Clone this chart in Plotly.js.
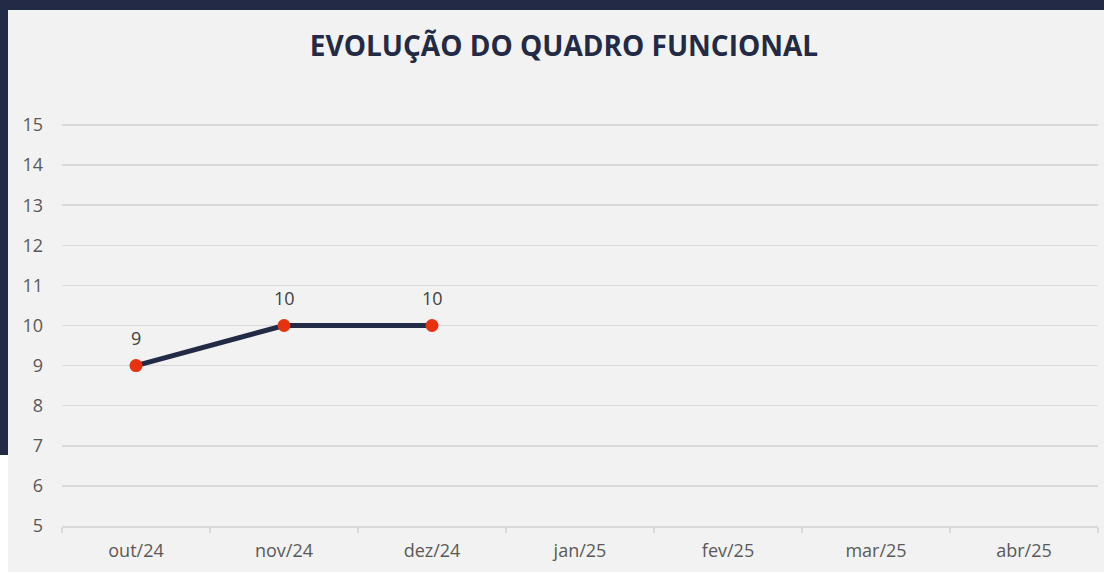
<!DOCTYPE html>
<html>
<head>
<meta charset="utf-8">
<script src="https://cdn.plot.ly/plotly-3.0.1.min.js"></script>
<style>
html,body{margin:0;padding:0;background:#f2f2f2;}
#chart{width:1104px;height:572px;}
</style>
</head>
<body>
<div id="chart"></div>
<script>
const months = ['out/24','nov/24','dez/24','jan/25','fev/25','mar/25','abr/25'];
const headcount = [9, 10, 10, null, null, null, null];
const yTicks = [5,6,7,8,9,10,11,12,13,14,15];
const chartTitle = 'EVOLUÇÃO DO QUADRO FUNCIONAL';

const navy = '#222a45';
const W = 1104, H = 572, ML = 62, MR = 6, MT = 122, MB = 46;
const PW = W - ML - MR, PH = H - MT - MB;
const px = x => (x - ML) / PW;
const py = y => (H - MB - y) / PH;

const trace = {
  type: 'scatter',
  mode: 'lines+markers',
  x: months,
  y: headcount,
  line: {color: navy, width: 5},
  marker: {color: '#e8310f', size: 13},
  hoverinfo: 'x+y',
  cliponaxis: false
};

const annotations = [];
months.forEach((m, i) => {
  if (headcount[i] !== null) {
    annotations.push({
      x: m, y: headcount[i], xref: 'x', yref: 'y',
      text: String(headcount[i]), showarrow: false,
      yshift: 28, font: {family: 'Open Sans, sans-serif', size: 18, color: '#404040'}
    });
  }
});

const shapes = [
  {type:'rect', xref:'paper', yref:'paper', x0:px(0), x1:px(W), y0:py(10), y1:py(0), fillcolor:navy, line:{width:0}, layer:'below'},
  {type:'rect', xref:'paper', yref:'paper', x0:px(0), x1:px(8), y0:py(455), y1:py(0), fillcolor:navy, line:{width:0}, layer:'below'},
  {type:'rect', xref:'paper', yref:'paper', x0:px(0), x1:px(8), y0:py(H), y1:py(455), fillcolor:'#ffffff', line:{width:0}, layer:'below'}
];

const layout = {
  width: W, height: H,
  margin: {l: ML, r: MR, t: MT, b: MB},
  paper_bgcolor: '#f2f2f2',
  plot_bgcolor: '#f2f2f2',
  showlegend: false,
  title: {
    text: '<b>' + chartTitle + '</b>',
    xref: 'container', yref: 'container',
    x: 564 / W, xanchor: 'center',
    y: 1 - 46 / H, yanchor: 'middle',
    font: {family: 'Open Sans, sans-serif', size: 28, color: navy}
  },
  xaxis: {
    type: 'category',
    categoryarray: months,
    range: [-0.5, months.length - 0.5],
    showgrid: false,
    showline: true, linecolor: '#d9d9d9', linewidth: 1.5,
    ticks: 'outside', tickson: 'boundaries', ticklen: 5, tickcolor: '#d9d9d9', tickwidth: 1.5,
    tickfont: {family: 'Open Sans, sans-serif', size: 18, color: '#595959'},
    ticklabelstandoff: 8,
    fixedrange: true
  },
  yaxis: {
    range: [5, 15.075],
    tickvals: yTicks,
    showgrid: true, gridcolor: '#d9d9d9', gridwidth: 1.5,
    zeroline: false, showline: false,
    ticks: '',
    tickfont: {family: 'Open Sans, sans-serif', size: 18, color: '#595959'},
    ticklabelstandoff: 18,
    fixedrange: true
  },
  annotations: annotations,
  shapes: shapes
};

Plotly.newPlot('chart', [trace], layout, {displayModeBar: false, staticPlot: true});
</script>
</body>
</html>
